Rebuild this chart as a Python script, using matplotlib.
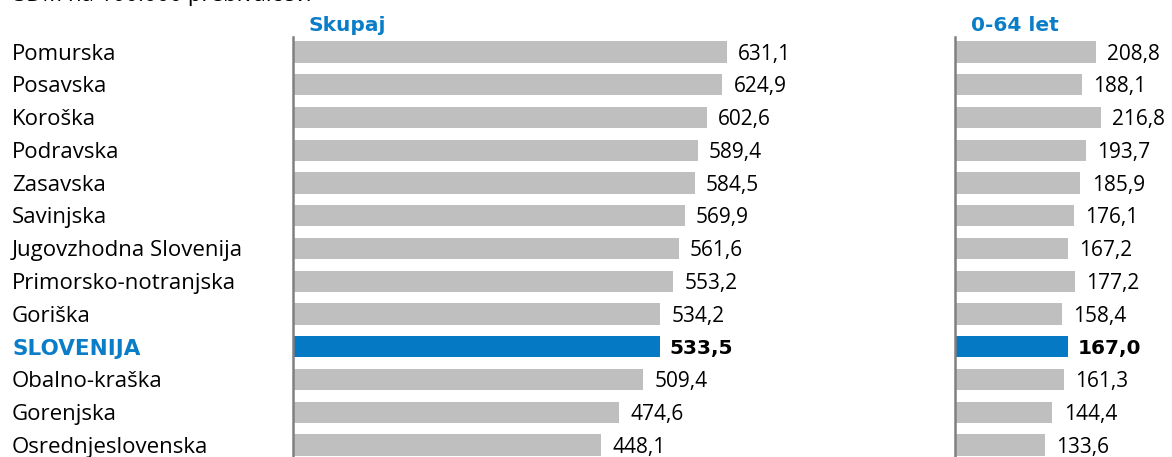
import matplotlib.pyplot as plt
import matplotlib.transforms as mtransforms

plt.rcParams['font.family'] = ['Open Sans', 'DejaVu Sans']

# podatki
regije = ['Pomurska', 'Posavska', 'Koroška', 'Podravska', 'Zasavska', 'Savinjska',
          'Jugovzhodna Slovenija', 'Primorsko-notranjska', 'Goriška', 'SLOVENIJA',
          'Obalno-kraška', 'Gorenjska', 'Osrednjeslovenska']
skupaj = [631.1, 624.9, 602.6, 589.4, 584.5, 569.9, 561.6, 553.2, 534.2, 533.5,
          509.4, 474.6, 448.1]
do64 = [208.8, 188.1, 216.8, 193.7, 185.9, 176.1, 167.2, 177.2, 158.4, 167.0,
        161.3, 144.4, 133.6]

W, H = 1172, 457
siva = '#bfbfbf'
modra = '#0579c4'
naslov_barva = '#0a7dc8'
krepko = ['DejaVu Sans']

fig = plt.figure(figsize=(W / 100, H / 100), dpi=100)

top_px, bot_px = 37, 460
ax1 = fig.add_axes([293 / W, 1 - bot_px / H, 481 / W, (bot_px - top_px) / H])
ax2 = fig.add_axes([955 / W, 1 - bot_px / H, 162 / W, (bot_px - top_px) / H])


def panel(ax, vals, xmax, naslov, nx):
    n = len(vals)
    y = list(range(n))
    barve = [modra if r == 'SLOVENIJA' else siva for r in regije]
    ax.barh(y, vals, height=0.65, color=barve, edgecolor='none')
    ax.set_xlim(0, xmax)
    ax.set_ylim(n - 1 + 0.46, -0.46)
    for s in ['top', 'right', 'bottom']:
        ax.spines[s].set_visible(False)
    ax.spines['left'].set_color('#808080')
    ax.spines['left'].set_linewidth(1.8)
    ax.set_xticks([])
    ax.set_yticks([])
    for i, v in enumerate(vals):
        txt = f'{v:.1f}'.replace('.', ',')
        if regije[i] == 'SLOVENIJA':
            ax.annotate(txt, (v, i), xytext=(7, -1), textcoords='offset points',
                        va='center', ha='left', fontsize=14.5, fontweight='bold',
                        family=krepko, color='black')
        else:
            ax.annotate(txt, (v, i), xytext=(8, -1.5), textcoords='offset points',
                        va='center', ha='left', fontsize=15, color='black')
    ax.text(nx, 1.005, naslov, transform=ax.transAxes,
            ha='left', va='bottom', fontsize=14.5, fontweight='bold',
            family=krepko, color=naslov_barva)


panel(ax1, skupaj, 700, 'Skupaj', 0.033)
panel(ax2, do64, 240, '0-64 let', 0.1)

# imena regij
tr = mtransforms.blended_transform_factory(fig.transFigure, ax1.transData)
tr = tr + mtransforms.ScaledTranslation(0, -1.5 / 72, fig.dpi_scale_trans)
for i, r in enumerate(regije):
    if r == 'SLOVENIJA':
        ax1.text(12 / W, i, r, transform=tr, va='center', ha='left', fontsize=15.5,
                 fontweight='bold', family=krepko, color=naslov_barva)
    else:
        ax1.text(12 / W, i, r, transform=tr, va='center', ha='left', fontsize=16,
                 color='black')

# odrezan naslov na vrhu
fig.text(14 / W, 1 - 1 / H, 'SDM na 100.000 prebivalcev:', ha='left', va='baseline',
         fontsize=16, color='black')

fig.savefig('out.png', dpi=100)
